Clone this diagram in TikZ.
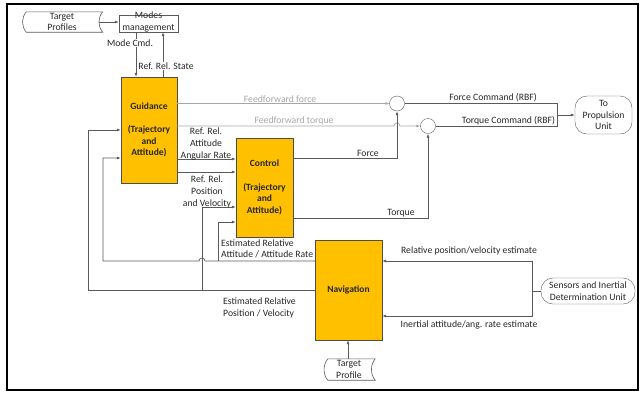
\documentclass[tikz,border=0pt]{standalone}
\usepackage{fontspec}
\setmainfont{Carlito}
\usetikzlibrary{arrows.meta}
\definecolor{orng}{HTML}{FFC000}
\definecolor{lnc}{HTML}{5A5A5A}
\definecolor{ffc}{HTML}{A6A6A6}
\definecolor{txc}{HTML}{262626}
\begin{document}
\begin{tikzpicture}[x=1pt,y=-1pt,
  every node/.style={font=\fontsize{9.7}{11.6}\selectfont, text=txc},
  txt/.style={align=center, inner sep=0pt},
  lbl/.style={inner sep=1pt, align=center},
  blk/.style={draw=black!70, fill=orng, align=center, inner sep=0pt, font=\fontsize{9.5}{11.6}\selectfont\bfseries},
  sumc/.style={draw=lnc, fill=white, circle, minimum size=15pt, inner sep=0pt},
  term/.style={draw=lnc, rounded corners=12pt, align=center, inner sep=0pt},
  ln/.style={draw=lnc, line width=0.7pt},
  arr/.style={ln, -{Latex[length=4pt,width=3pt]}},
  ffarr/.style={draw=ffc, line width=0.7pt, -{Latex[length=4pt,width=3pt]}},
  tape/.style={draw=lnc, line width=0.6pt}
]
\useasboundingbox (0,0) rectangle (642,392);
\draw[line width=1.6pt] (7,4) rectangle (638,390);

% top target profiles
\node[txt, minimum width=81pt, minimum height=20pt] (tp) at (62,22) {Target\\Profiles};
\draw[tape] ([xshift=5pt]tp.north west) -- (tp.north east)
  .. controls ([xshift=-5pt,yshift=-6pt]tp.north east) and ([xshift=-5pt,yshift=6pt]tp.south east) .. (tp.south east)
  -- ([xshift=5pt]tp.south west)
  .. controls ([yshift=6pt]tp.south west) and ([yshift=-6pt]tp.north west) .. ([xshift=5pt]tp.north west) -- cycle;
\node[draw=lnc, minimum width=59pt, minimum height=17pt, inner sep=0pt] (modes) at (148.5,23.5) {};
\node[txt] (modest) at (148.5,22) {Modes\\management};
\draw[arr] ([xshift=-4pt]tp.east) -- (modes.west |- tp.east);

% blocks
\node[blk, minimum width=56pt, minimum height=106pt] (guid) at (149,130) {Guidance\\ \\(Trajectory\\and\\Attitude)};
\node[blk, minimum width=57pt, minimum height=99pt] (ctrl) at (264.5,187.5) {Control\\ \\(Trajectory\\and\\Attitude)};
\node[blk, minimum width=67pt, minimum height=100pt] (nav) at (348.5,290) {Navigation};

\node[sumc] (s1) at (397,103.5) {};
\node[sumc] (s2) at (428,126) {};

\node[term, minimum width=57pt, minimum height=38pt] (prop) at (603.5,115) {To\\Propulsion\\Unit};
\node[term, minimum width=94pt, minimum height=26pt] (sens) at (588,291) {Sensors and Inertial\\Determination Unit};

% bottom target profile
\node[txt, minimum width=52pt, minimum height=21pt] (tpb) at (349,369.5) {Target\\Profile};
\draw[tape] ([xshift=5pt]tpb.north west) -- (tpb.north east)
  .. controls ([xshift=-5pt,yshift=-6pt]tpb.north east) and ([xshift=-5pt,yshift=6pt]tpb.south east) .. (tpb.south east)
  -- ([xshift=5pt]tpb.south west)
  .. controls ([yshift=6pt]tpb.south west) and ([yshift=-6pt]tpb.north west) .. ([xshift=5pt]tpb.north west) -- cycle;
\draw[arr] (tpb.north -| 348,0) -- (nav.south -| 348,0);

% modes <-> guidance
\draw[arr] (modes.south -| 136,0) -- (guid.north -| 136,0);
\draw[arr] (guid.north -| 163,0) -- (modes.south -| 163,0);
\node[lbl, fill=white, inner sep=0.5pt] (mcl) at (130,43) {Mode Cmd.};
\node[lbl, fill=white, inner sep=0.5pt] (rrs) at (166,66) {Ref. Rel. State};

% feedforward
\draw[ffarr] (guid.east |- s1) -- node[pos=0.485, above, lbl, text=ffc] {Feedforward force} (s1.west);
\draw[ffarr] (guid.east |- s2) -- (394,126) arc[start angle=180, end angle=0, radius=3pt] -- (s2.west);
\node[lbl, text=ffc, anchor=south] (fft) at (294,126) {Feedforward torque};

% control outputs
\draw[arr] (ctrl.east |- 0,158) -| node[pos=0.36, above, lbl] {Force} (s1.south);
\draw[arr] (ctrl.east |- 0,218) -| node[pos=0.4, above, lbl] {Torque} (s2.south);

% commands
\coordinate (jn) at (557,115);
\draw[ln] (s1.east) -| node[pos=0.29, above, lbl] {Force Command (RBF)} (jn);
\draw[ln] (s2.east) -| node[pos=0.3, above, lbl] {Torque Command (RBF)} (jn);
\draw[arr] (jn) -- (prop.west);

% guidance -> control
\draw[arr] (guid.east |- 0,159) -- (ctrl.west |- 0,159);
\draw[arr] (guid.east |- 0,172) -- (ctrl.west |- 0,172);
\node[lbl] at (206,144) {Ref. Rel.\\Attitude\\Angular Rate};
\node[lbl] at (207,192) {Ref. Rel.\\Position\\and Velocity};

% navigation feedback
\draw[arr] (nav.west |- 0,261) -- (205,261) arc[start angle=0, end angle=180, radius=3pt] -- (103,261) -- (103,158) -- (guid.west |- 0,158);
\draw[arr] (218,261) -- (218,222) -- (ctrl.west |- 0,222);
\draw[arr] (nav.west |- 0,290) -- (88,290) -- (88,130) -- (guid.west |- 0,130);
\draw[arr] (202,290) -- (202,207) -- (ctrl.west |- 0,207);
\node[lbl, align=left, anchor=west] at (220,249) {Estimated Relative\\Attitude / Attitude Rate};
\node[lbl, align=left, anchor=west] at (222,308) {Estimated Relative\\Position / Velocity};

% sensors
\coordinate (sj) at (532,291);
\draw[ln] (sens.west) -- (sj);
\draw[arr] (sj) |- (nav.east |- 0,261);
\draw[arr] (sj) |- (nav.east |- 0,316);
\node[lbl] at (469,251) {Relative position/velocity estimate};
\node[lbl] at (469,325) {Inertial attitude/ang. rate estimate};
\end{tikzpicture}
\end{document}
